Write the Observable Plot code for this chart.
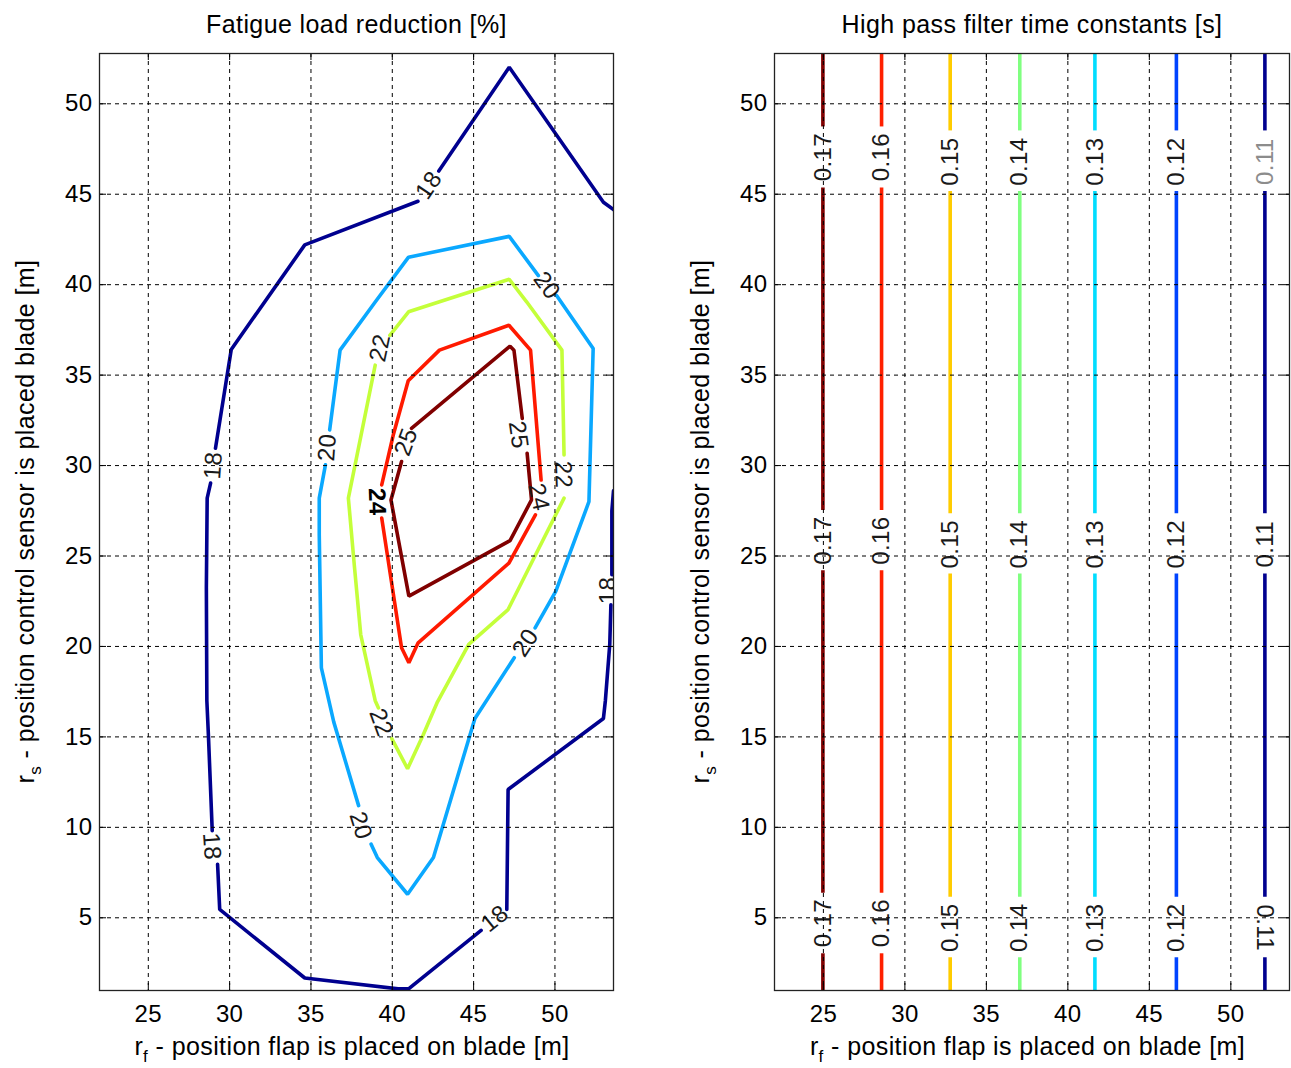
<!DOCTYPE html>
<html><head><meta charset="utf-8">
<script src="https://cdn.jsdelivr.net/npm/d3@7"></script>
<script src="https://cdn.jsdelivr.net/npm/@observablehq/plot@0.6"></script>
<style>
body{margin:0;background:#fff;}
#wrap{position:relative;width:1291px;height:1068px;overflow:hidden;background:#fff;}
#wrap svg{position:absolute;top:0;}
</style></head><body><div id="wrap"></div>
<script>
// ---- shared axes ----
const xTicks = [25, 30, 35, 40, 45, 50];
const yTicks = [5, 10, 15, 20, 25, 30, 35, 40, 45, 50];
const xDomain = [22, 53.6];
const yDomain = [0.98, 52.78];

// ---- left panel: fatigue load reduction contours [%] ----
const fatigueLevels = [18, 20, 22, 24, 25];
const fatigueColors = ["#00008f", "#0aa8ff", "#c4ff3a", "#ff1a00", "#800000"];

// rows: [segment, r_f, r_s]
const c18 = [
  [1, 53.6, 44.15], [1, 52.98, 44.56], [1, 47.19, 52.02], [1, 42.86, 46.28],
  [2, 41.58, 44.61], [2, 34.62, 42.2], [2, 30.1, 36.42], [2, 29.13, 30.96],
  [3, 28.83, 29.03], [3, 28.62, 28.2], [3, 28.57, 23.24], [3, 28.6, 17.0], [3, 28.7, 15.0], [3, 28.93, 9.82],
  [4, 29.26, 7.96], [4, 29.39, 5.46], [4, 34.62, 1.67], [4, 40.36, 1.07], [4, 41.0, 1.07], [4, 45.46, 4.3],
  [5, 47.04, 5.46], [5, 47.12, 12.09], [5, 52.98, 16.02], [5, 53.1, 17.0], [5, 53.37, 20.11], [5, 53.44, 22.3],
  [6, 53.5, 23.97], [6, 53.5, 27.5], [6, 53.6, 28.6]
];
const c20 = [
  [1, 50.1, 39.4], [1, 52.35, 36.47], [1, 52.09, 28.0], [1, 50.05, 23.05], [1, 48.78, 21.03],
  [2, 47.5, 19.38], [2, 45.08, 16.02], [2, 42.53, 8.33], [2, 40.94, 6.3], [2, 39.08, 8.33], [2, 38.7, 9.07],
  [3, 37.93, 11.2], [3, 36.4, 15.83], [3, 35.64, 18.82], [3, 35.51, 26.18], [3, 35.51, 28.2], [3, 35.89, 30.04],
  [4, 36.15, 31.97], [4, 36.79, 36.38], [4, 38.95, 39.04], [4, 41.0, 41.52], [4, 47.19, 42.67], [4, 48.98, 40.5]
];
const c22 = [
  [1, 39.85, 37.2], [1, 41.0, 38.5], [1, 47.19, 40.3], [1, 48.27, 39.04], [1, 50.43, 36.38], [1, 50.56, 30.59],
  [2, 50.56, 28.2], [2, 47.12, 22.04], [2, 44.7, 20.11], [2, 42.78, 16.94], [2, 41.89, 15.09], [2, 40.94, 13.24], [2, 39.97, 14.9],
  [3, 39.15, 16.6], [3, 38.95, 17.0], [3, 38.06, 20.66], [3, 37.68, 24.34], [3, 37.3, 28.2], [3, 38.95, 35.55]
];
const c24 = [
  [1, 39.35, 28.93], [1, 40.06, 31.69], [1, 40.98, 34.69], [1, 42.9, 36.38], [1, 47.17, 37.76], [1, 48.5, 36.38], [1, 49.15, 29.2],
  [2, 48.8, 27.28], [2, 47.17, 24.61], [2, 41.59, 20.2], [2, 41.02, 19.1], [2, 40.57, 19.93], [2, 39.35, 27.1]
];
const c25 = [
  [1, 40.57, 30.22], [1, 39.92, 28.1], [1, 41.02, 22.78], [1, 47.24, 25.85], [1, 48.56, 28.1], [1, 48.29, 30.68],
  [2, 47.99, 32.61], [2, 47.48, 36.38], [2, 47.24, 36.6], [2, 41.18, 32.06]
];
// contour labels: [level, r_f, r_s, angle, bold]
const fatigueLabels = [
  [18, 42.25, 45.5, -56, 0], [18, 29.0, 30.0, -86, 0], [18, 28.9, 8.95, 86, 0],
  [18, 46.3, 4.95, -39, 0], [18, 53.3, 23.1, -90, 0],
  [20, 49.5, 39.95, 54, 0], [20, 48.2, 20.2, -57, 0], [20, 38.05, 10.1, 73, 0], [20, 36.0, 31.0, -86, 0],
  [22, 39.25, 36.5, -78, 0], [22, 50.5, 29.5, 88, 0], [22, 39.3, 15.8, 70, 0],
  [24, 39.05, 28.0, 88, 1], [24, 49.0, 28.25, 78, 0],
  [25, 47.75, 31.7, 82, 0], [25, 40.85, 31.3, -70, 0]
];

// ---- right panel: high pass filter time constants [s] ----
const hpLevels = [0.17, 0.16, 0.15, 0.14, 0.13, 0.12, 0.11];
const hpColors = ["#800000", "#ff2000", "#ffcc00", "#80ff80", "#00ddff", "#0044ff", "#00008f"];
const hpX = [24.97, 28.57, 32.78, 37.05, 41.66, 46.66, 52.09];
// line breaks around labels (top gap, middle gap, bottom gap), high→low
const hpBreaks = [
  [48.72, 45.34, 27.51, 24.19, 6.36, 3.01],
  [48.72, 45.34, 27.51, 24.19, 6.36, 3.01],
  [48.5, 45.15, 27.33, 24.0, 6.14, 2.79],
  [48.5, 45.15, 27.33, 24.0, 6.14, 2.79],
  [48.5, 45.15, 27.33, 24.0, 6.14, 2.79],
  [48.5, 45.15, 27.33, 24.0, 6.14, 2.79],
  [48.5, 45.15, 27.33, 24.0, 6.14, 2.79]
];
const hpLabelY = [
  [47.05, 25.85, 4.7], [47.05, 25.85, 4.7], [46.8, 25.65, 4.45], [46.8, 25.65, 4.45],
  [46.8, 25.65, 4.45], [46.8, 25.65, 4.45], [46.8, 25.65, 4.45]
];
const hpLabelAngle = [
  [-90, -90, -90], [-90, -90, -90], [-90, -90, -90], [-90, -90, -90],
  [-90, -90, -90], [-90, -90, -90], [-90, -90, 90]
];
const hpLabelFill = [
  ["#1a1a1a", "#1a1a1a", "#1a1a1a"], ["#1a1a1a", "#1a1a1a", "#1a1a1a"], ["#1a1a1a", "#1a1a1a", "#1a1a1a"], ["#1a1a1a", "#1a1a1a", "#1a1a1a"],
  ["#1a1a1a", "#1a1a1a", "#1a1a1a"], ["#1a1a1a", "#1a1a1a", "#1a1a1a"], ["#8c8c8c", "#1a1a1a", "#1a1a1a"]
];

// ---- build tables ----
const contourRows = [];
[c18, c20, c22, c24, c25].forEach((arr, i) => {
  arr.forEach(([seg, x, y]) => contourRows.push({level: fatigueLevels[i], key: fatigueLevels[i] + "-" + seg, x, y, color: fatigueColors[i]}));
});
const labelRows = fatigueLabels.map(([level, x, y, angle, bold]) => ({level, x, y, angle, bold}));

const hpRuleRows = [];
const hpTextRows = [];
hpLevels.forEach((lv, i) => {
  const b = hpBreaks[i];
  const ends = [[yDomain[0], b[5]], [b[4], b[3]], [b[2], b[1]], [b[0], yDomain[1]]];
  ends.forEach(([y1, y2]) => hpRuleRows.push({x: hpX[i], y1, y2, color: hpColors[i]}));
  hpLabelY[i].forEach((y, j) => hpTextRows.push({x: hpX[i], y, text: d3.format(".2f")(lv), angle: hpLabelAngle[i][j], fill: hpLabelFill[i][j]}));
});

const H = 1068, MT = 53, MB = 78;
const frameH = H - MT - MB;
const FONT = "'Liberation Sans', Arial, sans-serif";

function panel({width, marginLeft, marginRight, title, marks}) {
  const frameW = width - marginLeft - marginRight;
  return Plot.plot({
    width, height: H, marginLeft, marginRight, marginTop: MT, marginBottom: MB,
    x: {domain: xDomain},
    y: {domain: yDomain},
    style: {fontFamily: FONT, fontSize: "24px", color: "#000", background: "#fff", letterSpacing: "0.4px", overflow: "visible"},
    marks: [
      ...marks,
      Plot.gridX({ticks: xTicks, stroke: "#000", strokeOpacity: 1, strokeWidth: 1, strokeDasharray: "4,4"}),
      Plot.gridY({ticks: yTicks, stroke: "#000", strokeOpacity: 1, strokeWidth: 1, strokeDasharray: "4,4"}),
      Plot.tickX(xTicks, {x: d => d, insetTop: frameH - 7, stroke: "#000"}),
      Plot.tickX(xTicks, {x: d => d, insetBottom: frameH - 7, stroke: "#000"}),
      Plot.tickY(yTicks, {y: d => d, insetRight: frameW - 7, stroke: "#000"}),
      Plot.tickY(yTicks, {y: d => d, insetLeft: frameW - 7, stroke: "#000"}),
      Plot.frame({stroke: "#222", strokeWidth: 1.3}),
      Plot.axisX({ticks: xTicks, tickSize: 0, tickPadding: 14, label: null, fontSize: 24}),
      Plot.axisY({ticks: yTicks, tickSize: 0, tickPadding: 7, label: null, fontSize: 24}),
      Plot.text([title], {frameAnchor: "top", dy: -21, lineAnchor: "bottom", fontSize: 25})
    ]
  });
}

function addAxisLabels(svg, fl, fr) {
  const ft = MT, fb = H - MB;
  const g = d3.select(svg).append("g").attr("fill", "#000").attr("font-size", 25)
    .attr("font-family", FONT).style("letter-spacing", "0.4px");
  const xl = g.append("text").attr("x", (fl + fr) / 2 - 4).attr("y", 1055).attr("text-anchor", "middle");
  xl.append("tspan").text("r");
  xl.append("tspan").attr("font-size", 17).attr("dy", 7).text("f");
  xl.append("tspan").attr("dy", -7).text(" - position flap is placed on blade [m]");
  const yl = g.append("text").attr("transform", `translate(${fl - 65},${(ft + fb) / 2}) rotate(-90)`).attr("text-anchor", "middle");
  yl.append("tspan").text("r");
  yl.append("tspan").attr("font-size", 17).attr("dy", 7).text("s");
  yl.append("tspan").attr("dy", -7).text(" - position control sensor is placed blade [m]");
}

const left = panel({
  width: 645, marginLeft: 99, marginRight: 32,
  title: "Fatigue load reduction [%]",
  marks: [
    Plot.line(contourRows, {x: "x", y: "y", z: "key", stroke: "color", strokeWidth: 3.6, strokeLinejoin: "miter", clip: true}),
    Plot.text(labelRows.filter(d => !d.bold), {x: "x", y: "y", text: d => String(d.level), rotate: "angle", fill: "#1a1a1a", fontSize: 24, clip: true}),
    Plot.text(labelRows.filter(d => d.bold), {x: "x", y: "y", text: d => String(d.level), rotate: "angle", fill: "#000", fontSize: 24, fontWeight: "bold", clip: true})
  ]
});
left.style.left = "0px";
addAxisLabels(left, 99, 613);

const right = panel({
  width: 646, marginLeft: 129, marginRight: 2,
  title: "High pass filter time constants [s]",
  marks: [
    Plot.ruleX(hpRuleRows, {x: "x", y1: "y1", y2: "y2", stroke: "color", strokeWidth: 3.6}),
    Plot.text(hpTextRows, {x: "x", y: "y", text: "text", rotate: "angle", fill: "fill", fontSize: 24})
  ]
});
right.style.left = "645px";
addAxisLabels(right, 129, 644);

const wrap = document.getElementById("wrap");
wrap.appendChild(left);
wrap.appendChild(right);
</script>
</body></html>
